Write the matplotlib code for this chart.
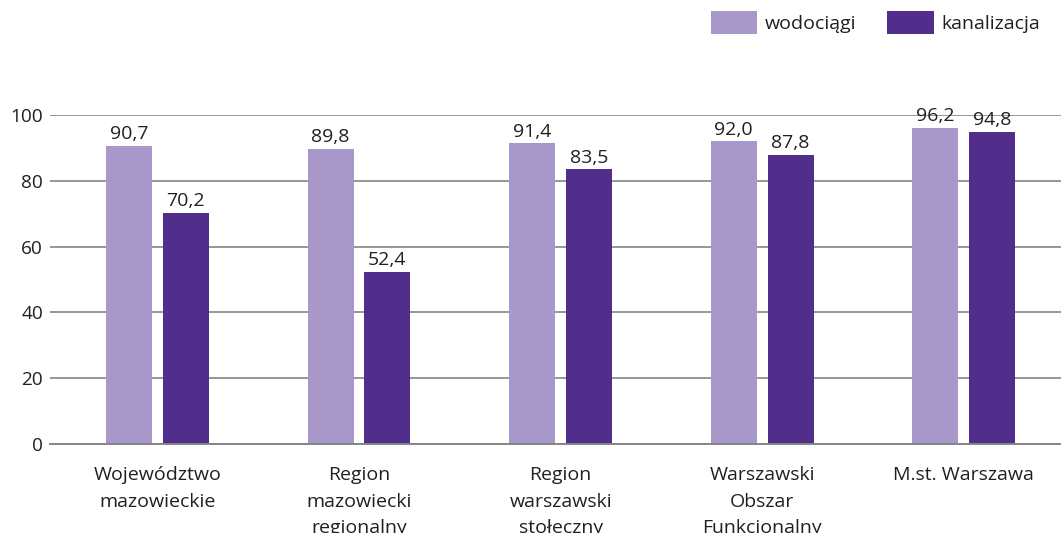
import matplotlib
matplotlib.use("Agg")
import matplotlib.pyplot as plt
import numpy as np

# share of population served by the networks, %
categories = [
    "Województwo\nmazowieckie",
    "Region\nmazowiecki\nregionalny",
    "Region\nwarszawski\nstołeczny",
    "Warszawski\nObszar\nFunkcjonalny",
    "M.st. Warszawa",
]
wodociagi = [90.7, 89.8, 91.4, 92.0, 96.2]
kanalizacja = [70.2, 52.4, 83.5, 87.8, 94.8]
series_names = ["wodociągi", "kanalizacja"]
yticks = [0, 20, 40, 60, 80, 100]

LIGHT = "#a897c9"
DARK = "#522e8c"
TEXT = "#231f20"
GRID = "#858585"

plt.rcParams["font.family"] = ["Open Sans", "DejaVu Sans"]
plt.rcParams["font.size"] = 14

W, H = 1061, 533
fig = plt.figure(figsize=(W / 100, H / 100), dpi=100)
ax = fig.add_axes([50 / W, (H - 444) / H, (W - 50) / W, (444 - 115) / H])

x = np.arange(len(categories))
width = 0.228
offset = 0.141

bars_w = ax.bar(x - offset, wodociagi, width, color=LIGHT, label=series_names[0], zorder=2)
bars_k = ax.bar(x + offset, kanalizacja, width, color=DARK, label=series_names[1], zorder=2)

for bars in (bars_w, bars_k):
    for b in bars:
        val = b.get_height()
        ax.annotate(f"{val:.1f}".replace(".", ","),
                    (b.get_x() + b.get_width() / 2, val),
                    xytext=(0, 2), textcoords="offset points",
                    ha="center", va="bottom", color=TEXT, fontsize=14)

ax.set_xlim(-0.533, 4.482)
ax.set_ylim(0, 100)
ax.set_yticks(yticks)
ax.set_yticklabels([str(v) for v in yticks], fontsize=13.7)
ax.set_xticks(x)
ax.set_xticklabels(categories, linespacing=1.6, fontsize=14)

ax.yaxis.grid(True, color=GRID, linewidth=1.2, zorder=0)
ax.set_axisbelow(True)
for s in ("top", "right", "left"):
    ax.spines[s].set_visible(False)
ax.spines["bottom"].set_color(GRID)
ax.spines["bottom"].set_linewidth(1.4)
ax.tick_params(axis="both", length=0, colors=TEXT)
ax.tick_params(axis="y", pad=5)
ax.tick_params(axis="x", pad=16)

fig.legend(loc="upper right", bbox_to_anchor=(1040 / W, 1 - 11 / H), ncol=2,
           frameon=False, fontsize=14, handlelength=2.4, handleheight=1.45,
           handletextpad=0.38, columnspacing=1.6, borderpad=0, borderaxespad=0,
           labelcolor=TEXT)

fig.savefig("out.png", dpi=100)
